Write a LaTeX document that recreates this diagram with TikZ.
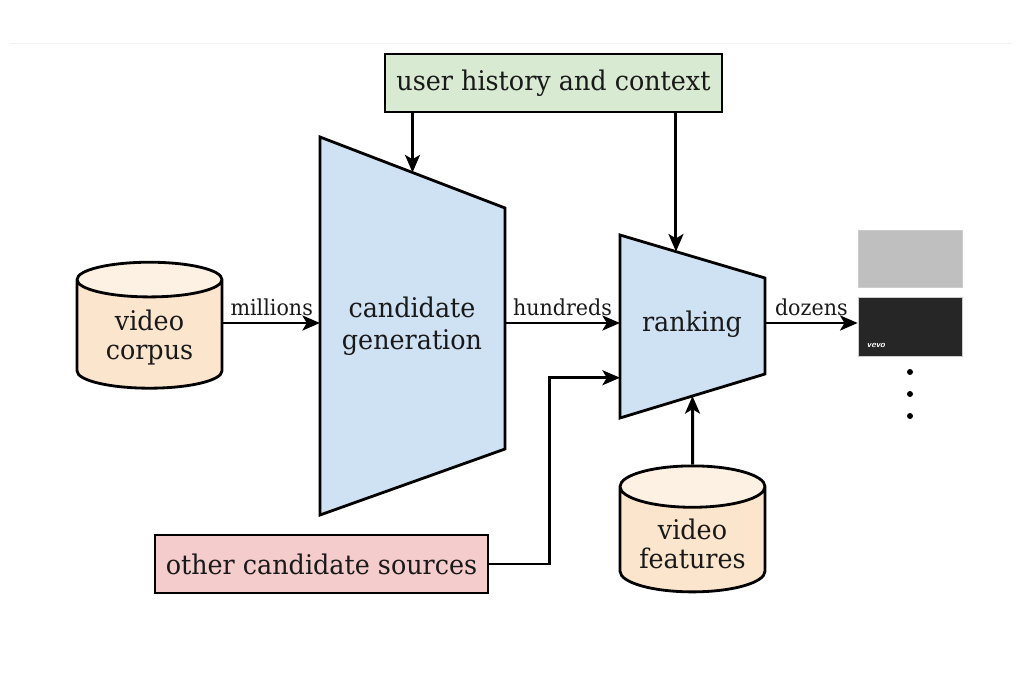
\documentclass[tikz,border=0pt]{standalone}
\usepackage{fontspec}
\setmainfont{DejaVu Serif}[FakeStretch=0.94]
\usetikzlibrary{arrows.meta,shapes.geometric,calc,positioning}

\definecolor{ctxgreen}{HTML}{D9EAD3}
\definecolor{stageblue}{HTML}{CFE2F3}
\definecolor{storepeach}{HTML}{FCE5CD}
\definecolor{srcpink}{HTML}{F4CCCC}

\begin{document}
\begin{tikzpicture}[>={Stealth[length=10pt,width=8.5pt,inset=2.5pt]},
        x=0.02cm,y=-0.02cm,line width=1.6pt,text=black!90,
        box/.style={draw,minimum height=1.16cm,font=\fontsize{15.4}{18}\selectfont},
        store/.style={cylinder,shape border rotate=90,aspect=0.35,draw,
          cylinder uses custom fill,cylinder body fill=storepeach,
          cylinder end fill=storepeach!55,minimum width=2.9cm,minimum height=2.52cm,
          align=center,font=\fontsize{15.4}{16.5}\selectfont},
        stage/.style={draw,fill=stageblue,line join=miter},
        big/.style={align=center,font=\fontsize{15.4}{18.2}\selectfont},
        link/.style={->,line width=1.7pt},
        lab/.style={above,font=\fontsize{12.5}{14}\selectfont}]

  \useasboundingbox (0,0) rectangle (1024,682);
  \draw[line width=0.3pt,black!5] (10,43) -- (1012,43);

  % boxes and stores
  \node[box,fill=ctxgreen,minimum width=6.74cm] (ctx) at (553.5,83) {user history and context};
  \node[box,fill=srcpink,minimum width=6.66cm] (src) at (321.5,564) {other candidate sources};
  \node[store] (corpus) at (149.5,338) {video\\corpus};
  \node[store] (feat) at (692.5,544) {video\\features};

  % candidate generation
  \coordinate (cg-tl) at (320,137);
  \coordinate (cg-tr) at (505,208);
  \coordinate (cg-br) at (505,449);
  \coordinate (cg-bl) at (320,515);
  \draw[stage] (cg-tl) -- (cg-tr) -- (cg-br) -- (cg-bl) -- cycle;
  \node[big] (cgtext) at (412,326) {candidate\\generation};

  % ranking
  \coordinate (rk-tl) at (620,235);
  \coordinate (rk-tr) at (765,278);
  \coordinate (rk-br) at (765,374);
  \coordinate (rk-bl) at (620,418);
  \draw[stage] (rk-tl) -- (rk-tr) -- (rk-br) -- (rk-bl) -- cycle;
  \node[big] (rktext) at (692,324) {ranking};

  % results
  \node[draw=black!20,line width=0.4pt,fill=black!25,minimum width=2.08cm,minimum height=1.14cm] (thumb1) at (910,258.5) {};
  \node[draw=black!20,line width=0.4pt,fill=black!85,minimum width=2.08cm,minimum height=1.18cm] (thumb2) at (910,326.5) {};
  \node[anchor=south west,text=white,font=\sffamily\bfseries\itshape\tiny] (vevo) at ($(thumb2.south west)+(2,-1)$) {vevo};
  \foreach \y in {372,394,416}
    \fill (910,\y) circle (3);

  % connectors
  \coordinate (flow) at (0,323);
  \coordinate (cgtop) at ($(cg-tl)!0.5!(cg-tr)$);
  \coordinate (rktop) at ($(rk-tl)!0.386!(rk-tr)$);
  \coordinate (rkbot) at ($(rk-bl)!0.5!(rk-br)$);
  \coordinate (rkin) at ($(rk-tl)!0.78!(rk-bl)$);

  \draw[link] (flow -| corpus.east) -- node[lab] {millions} (flow -| cg-tl);
  \draw[link] (flow -| cg-tr) -- node[lab] {hundreds} (flow -| rk-tl);
  \draw[link] (flow -| rk-tr) -- node[lab] {dozens} (flow -| thumb2.west);
  \draw[link] (ctx.south -| cgtop) -- (cgtop);
  \draw[link] (ctx.south -| rktop) -- (rktop);
  \draw[link] (src.east) -- ++(60,0) |- (rkin);
  \draw[link] (feat.north) -- (rkbot);

\end{tikzpicture}
\end{document}
